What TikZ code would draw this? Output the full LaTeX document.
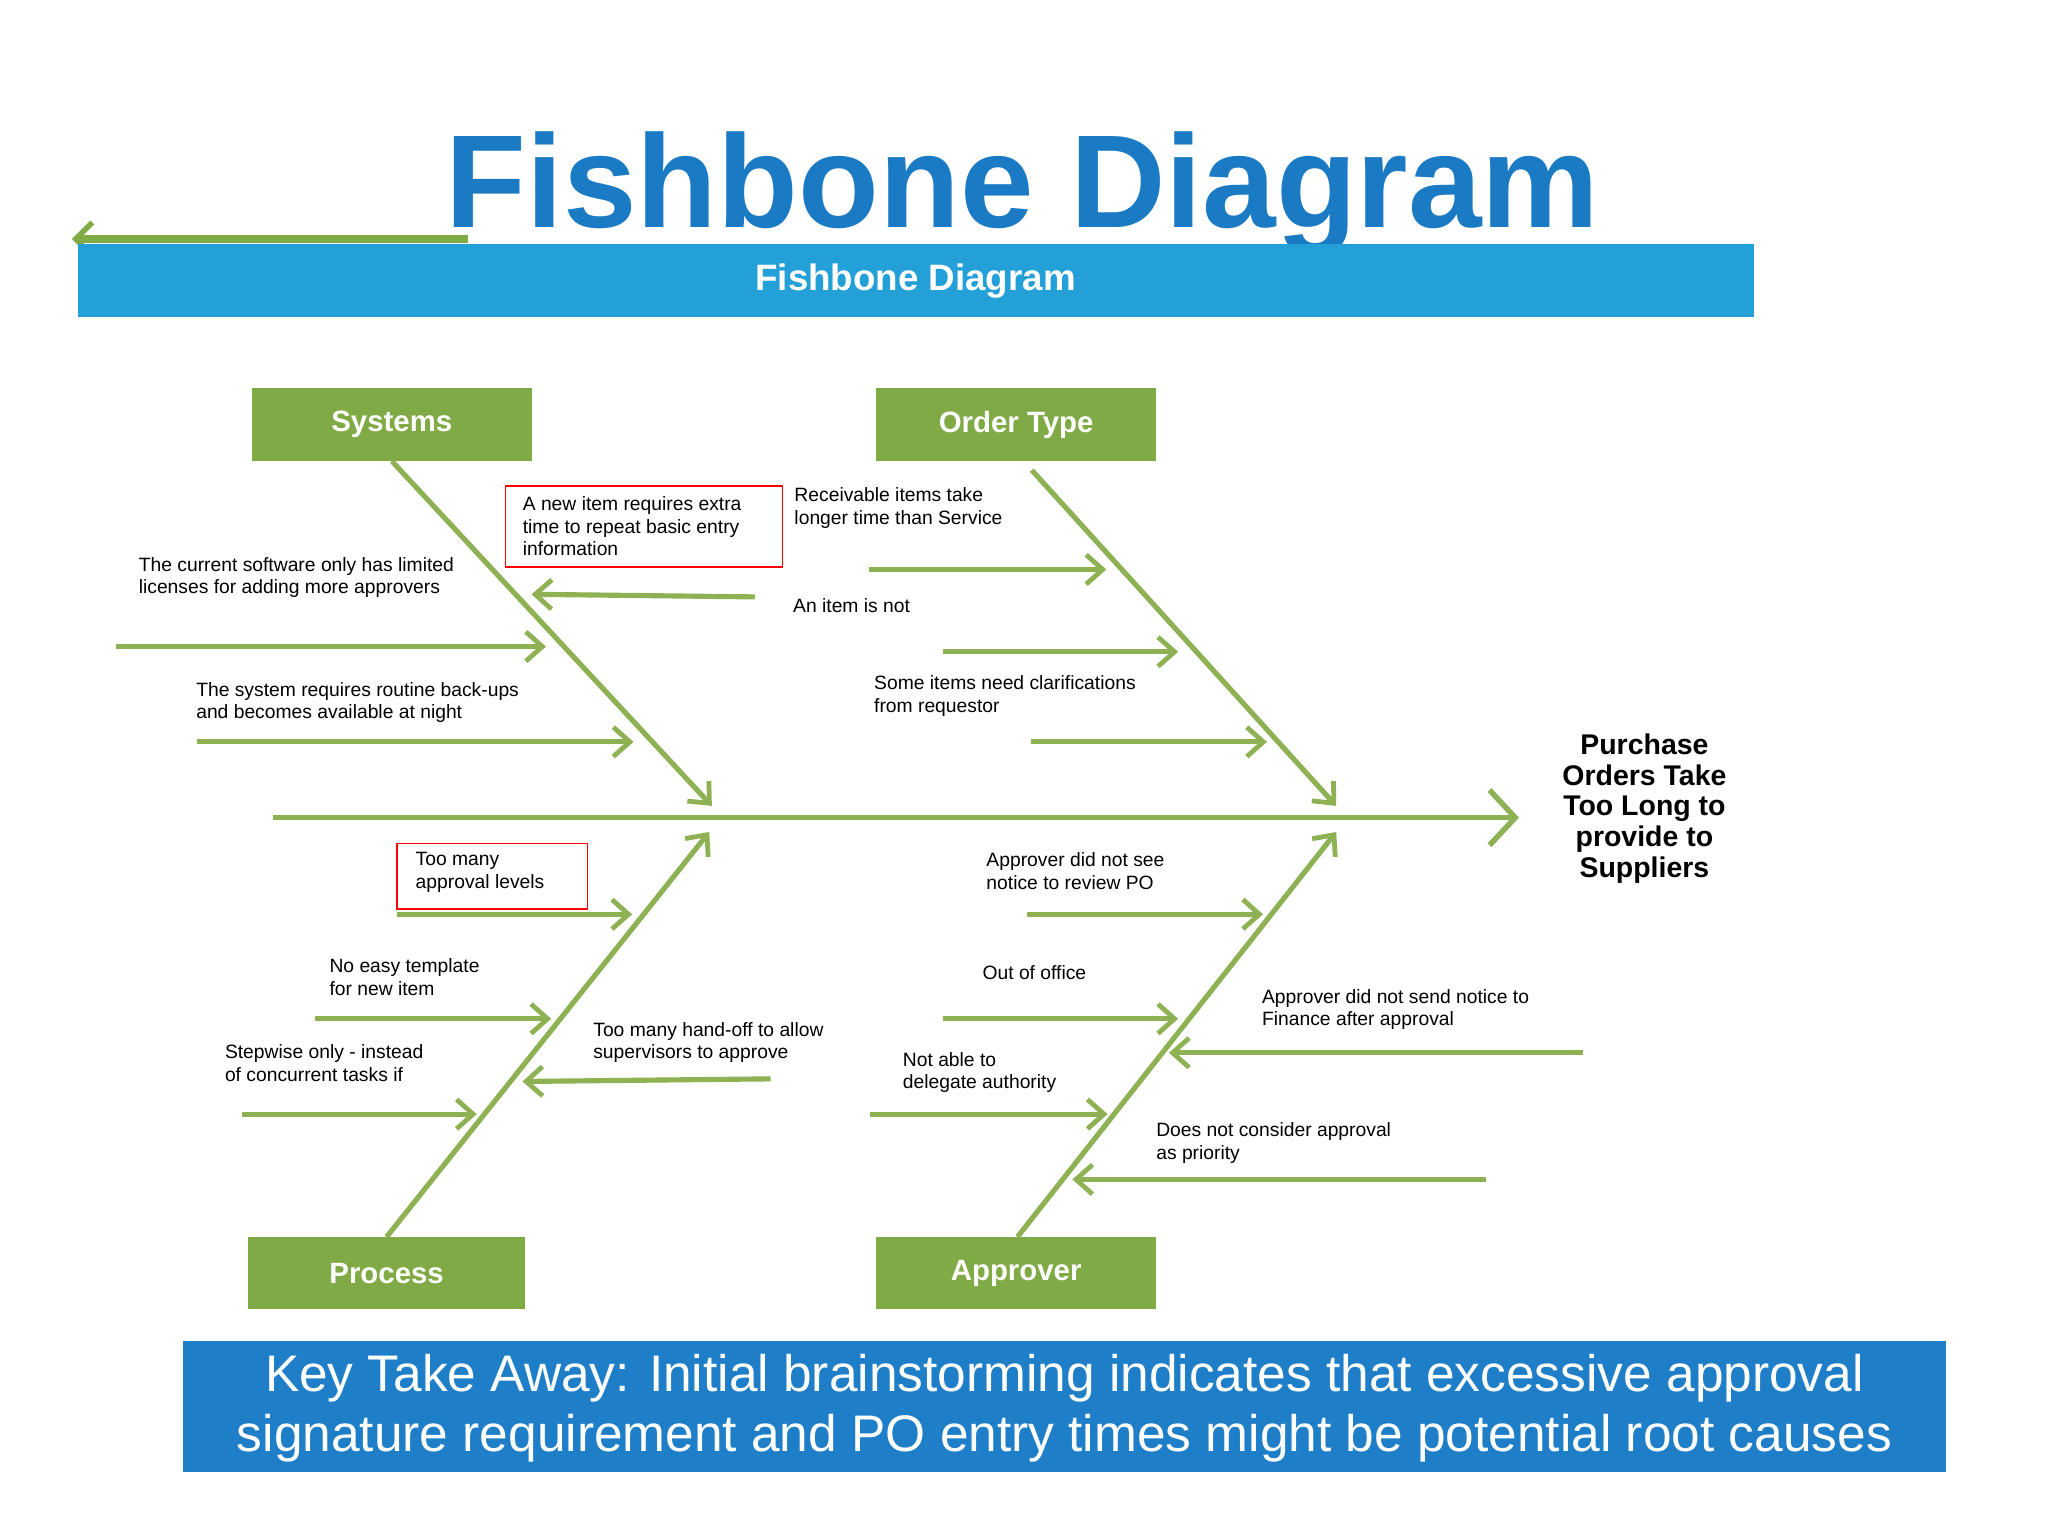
\documentclass[tikz,border=0pt]{standalone}
\usepackage{fontspec}
\setmainfont{Liberation Sans}
\usetikzlibrary{arrows.meta}
\definecolor{fgreen}{HTML}{7FAA45}
\definecolor{lgreen}{HTML}{8DB153}
\definecolor{tblue}{HTML}{1A7BC4}
\definecolor{bblue}{HTML}{24A0D8}
\definecolor{kblue}{HTML}{1F7EC8}
\tikzset{
 arr/.style={draw=lgreen,line width=2.8pt,-{Straight Barb[length=9pt,width=16pt,line width=2.6pt]}},
 bone/.style={draw=lgreen,line width=3pt},
 cat/.style={fill=fgreen,text=white,font=\bfseries\fontsize{16}{18}\selectfont},
 lbl/.style={anchor=west,align=left,font=\fontsize{10.5}{12.2}\selectfont,inner sep=0pt},
 redbox/.style={draw=red,line width=0.8pt}
}
\begin{document}
\begin{tikzpicture}[x=0.025cm,y=-0.025cm]
\useasboundingbox[fill=white] (0,0) rectangle (1568,1176);
% title
\node[font=\bfseries\fontsize{72}{72}\selectfont,text=tblue] (title) at (783,148) {Fishbone Diagram};
\draw[draw=fgreen,line width=4pt,-{Straight Barb[length=9pt,width=18pt,line width=3pt]}] (358,183) coordinate (ts) -- (55,183) coordinate (te);
\fill[bblue] (60,187) rectangle (1343,243);
\node[text=white,font=\bfseries\fontsize{20}{22}\selectfont] (sub) at (701,215) {Fishbone Diagram};
% category boxes
\fill[fgreen] (193,297) rectangle (407,353); \node[cat] (sys) at (300,325) {Systems};
\fill[fgreen] (671,297) rectangle (885,353); \node[cat] (ord) at (778,325) {Order Type};
\fill[fgreen] (190,947) rectangle (402,1002); \node[cat] (pro) at (296,975) {Process};
\fill[fgreen] (671,947) rectangle (885,1002); \node[cat] (app) at (778,975) {Approver};
% spine and bones
\draw[arr,line width=3pt,-{Straight Barb[length=14pt,width=30pt,line width=3pt]}] (209,626) coordinate (sp0) -- (1163,626) coordinate (sp1);
\draw[arr] (300,353) coordinate (b1s) -- (545,617) coordinate (b1e);
\draw[arr] (790,360) coordinate (b2s) -- (1023,617) coordinate (b2e);
\draw[arr] (296,947) coordinate (b3s) -- (543,637) coordinate (b3e);
\draw[arr] (779,947) coordinate (b4s) -- (1023,637) coordinate (b4e);
% small arrows
\draw[arr] (89,495) coordinate (a1) -- (418,495) coordinate (a1e);
\draw[arr] (151,568) coordinate (a2) -- (485,568) coordinate (a2e);
\draw[arr] (578,457) coordinate (a3) -- (407,455) coordinate (a3e);
\draw[arr] (665,436) coordinate (a4) -- (847,436) coordinate (a4e);
\draw[arr] (722,499) coordinate (a5) -- (902,499) coordinate (a5e);
\draw[arr] (789,568) coordinate (a6) -- (970,568) coordinate (a6e);
\draw[arr] (304,700) coordinate (a7) -- (484,700) coordinate (a7e);
\draw[arr] (241,780) coordinate (a8) -- (422,780) coordinate (a8e);
\draw[arr] (185,853) coordinate (a9) -- (365,853) coordinate (a9e);
\draw[arr] (590,826) coordinate (a10) -- (400,828) coordinate (a10e);
\draw[arr] (786,700) coordinate (a11) -- (967,700) coordinate (a11e);
\draw[arr] (722,780) coordinate (a12) -- (902,780) coordinate (a12e);
\draw[arr] (666,853) coordinate (a13) -- (848,853) coordinate (a13e);
\draw[arr] (1212,806) coordinate (a14) -- (895,806) coordinate (a14e);
\draw[arr] (1138,903) coordinate (a15) -- (821,903) coordinate (a15e);
% labels
\node[lbl] (t1) at (106,442) {The current software only has limited\\licenses for adding more approvers};
\node[lbl] (t2) at (150,538) {The system requires routine back-ups\\and becomes available at night};
\draw[redbox] (387,372) rectangle (599,434);
\node[lbl] (t3) at (400,403) {A new item requires extra\\time to repeat basic entry\\information};
\node[lbl] (t4) at (608,389) {Receivable items take\\longer time than Service};
\node[lbl] (t5) at (607,464) {An item is not};
\node[lbl] (t6) at (669,533) {Some items need clarifications\\from requestor};
\draw[redbox] (304,646) rectangle (450,696);
\node[lbl] (t7) at (318,668) {Too many\\approval levels};
\node[lbl] (t8) at (252,748) {No easy template\\for new item};
\node[lbl] (t9) at (172,814) {Stepwise only - instead\\of concurrent tasks if};
\node[lbl] (t10) at (454,798) {Too many hand-off to allow\\supervisors to approve};
\node[lbl] (t11) at (755,667) {Approver did not see\\notice to review PO};
\node[lbl] (t12) at (752,745) {Out of office};
\node[lbl] (t13) at (966,773) {Approver did not send notice to\\Finance after approval};
\node[lbl] (t14) at (691,821) {Not able to\\delegate authority};
\node[lbl] (t15) at (885,875) {Does not consider approval\\as priority};
\node[align=center,font=\bfseries\fontsize{15.5}{16.8}\selectfont] (head) at (1259,619) {Purchase\\Orders Take\\Too Long to\\provide to\\Suppliers};
% key takeaway
\fill[kblue] (140,1027) rectangle (1490,1127);
\node[text=white,align=center,font=\fontsize{28}{33}\selectfont] (key) at (815,1078) {Key Take Away: Initial brainstorming indicates that excessive approval\\signature requirement and PO entry times might be potential root causes};
\end{tikzpicture}
\end{document}
